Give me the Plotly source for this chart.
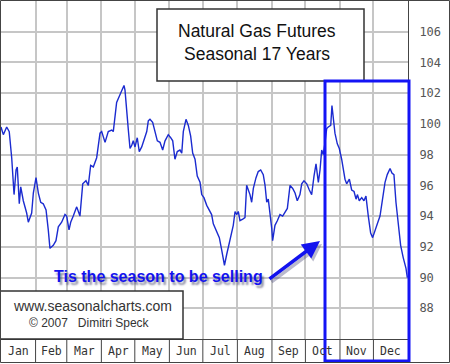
import plotly.graph_objects as go

# ---- data (day of year, seasonal index) ----
days = [0, 2.1, 5.1, 7.4, 9.6, 11.7, 13.5, 14.6, 16.4, 17.7, 20.0, 23.0, 24.5, 27.5, 29.0,
        31.4, 33.5, 35.6, 37.9, 40.4, 42.4, 43.9, 46.9, 49.3, 51.4, 54.4, 57.4, 58.9, 61.0,
        62.5, 64.8, 67.9, 70.8, 73.3, 76.2, 78.3, 80.4, 82.8, 85.8, 88.8, 90.3, 93.3, 96.2,
        99.3, 100.7, 102.2, 103.7, 106.1, 108.2, 110.3, 111.2, 112.7, 114.2, 115.7, 117.2,
        118.6, 120.2, 122.2, 124.0, 126.2, 128.2, 130.7, 132.1, 133.6, 136.0, 138.1, 140.2,
        142.6, 145.0, 147.1, 150.0, 152.2, 154.0, 156.0, 158.1, 160.5, 162.1, 163.5, 165.9,
        168.0, 170.1, 171.9, 174.0, 176.0, 178.5, 180.0, 182.0, 184.5, 186.8, 188.9, 190.4,
        193.4, 195.8, 197.9, 199.4, 200.4, 202.4, 205.4, 208.3, 209.9, 211.4, 212.8, 214.3,
        216.8, 218.8, 220.3, 221.8, 223.3, 224.8, 226.3, 228.7, 230.7, 232.9, 235.2, 236.8,
        238.3, 239.7, 241.2, 242.8, 243.6, 245.7, 247.8, 250.2, 252.6, 254.7, 256.8, 259.2,
        261.6, 263.7, 265.7, 268.1, 269.7, 271.7, 274.2, 276.5, 278.6, 280.7, 282.5, 284.6,
        286.1, 287.6, 289.0, 290.6, 292.1, 293.5, 295.7, 296.8, 298.0, 299.5, 301.6, 303.4,
        305.5, 307.0, 308.5, 310.0, 312.4, 314.5, 316.6, 318.4, 319.6, 321.3, 323.5, 325.5,
        327.3, 329.4, 331.5, 333.3, 335.4, 337.5, 339.9, 342.3, 344.4, 346.4, 348.9, 350.6,
        352.4, 354.2, 356.3, 358.4, 360.7, 363.2, 364.4]
values = [99.8, 99.3, 99.8, 99.5, 97.8, 95.4, 97.0, 97.2, 94.8, 95.9, 95.0, 94.2, 93.6, 94.2, 95.5,
          96.5, 95.5, 94.9, 94.8, 94.4, 93.1, 91.9, 92.1, 92.4, 93.3, 93.6, 94.1, 94.0, 93.1,
          93.6, 94.0, 94.6, 94.0, 96.1, 96.3, 96.0, 97.3, 97.2, 97.8, 99.4, 99.5, 98.8, 99.5,
          99.6, 99.5, 100.7, 101.4, 101.8, 102.1, 102.5, 102.2, 100.7, 99.6, 98.4, 98.6,
          98.9, 98.5, 99.1, 98.2, 98.5, 99.0, 99.5, 100.2, 100.3, 100.1, 99.4, 98.9,
          98.8, 98.3, 98.9, 99.3, 99.1, 98.9, 97.7, 98.2, 98.3, 98.1, 99.5, 100.3,
          99.9, 99.2, 98.1, 97.7, 96.6, 96.2, 95.4, 95.2, 94.7, 94.4, 94.1, 93.5,
          93.0, 92.6, 91.8, 91.3, 90.8, 91.5, 92.4, 93.4, 94.3, 94.1, 94.3, 93.7,
          93.8, 93.9, 96.0, 95.7, 95.4, 94.9, 95.8, 96.5, 96.9, 97.0, 96.7, 96.0,
          94.9, 95.1, 94.3, 93.2, 92.4, 93.4, 93.7, 94.1, 94.0, 94.3, 94.5, 96.0,
          95.8, 95.5, 95.0, 95.4, 96.1, 96.3, 96.1, 95.7, 95.4, 96.6, 97.4, 96.2,
          97.0, 98.3, 98.0, 98.8, 99.7, 99.8, 99.9, 101.2, 100.5, 99.4, 98.7, 98.4,
          97.7, 97.0, 96.4, 96.1, 96.4, 95.7, 95.6, 95.1, 95.4, 95.0, 95.2, 95.0,
          95.3, 94.0, 92.9, 92.6, 93.1, 93.5, 94.0, 95.1, 96.2, 96.7, 97.1, 96.8,
          96.7, 94.9, 93.4, 92.1, 91.3, 90.6, 90.0]

months = ["Jan", "Feb", "Mar", "Apr", "May", "Jun", "Jul", "Aug", "Sep", "Oct", "Nov", "Dec"]
month_starts = [0, 31, 59, 90, 120, 151, 181, 212, 243, 273, 304, 334, 365]
y_ticks = [86, 88, 90, 92, 94, 96, 98, 100, 102, 104, 106, 108]
y_labels = ["", "88", "90", "92", "94", "96", "98", "100", "102", "104", "106", ""]

title_lines = ["Natural Gas Futures", "Seasonal 17 Years"]
callout = "Tis the season to be selling"
site = "www.seasonalcharts.com"
credit = "\u00a9 2007\u00a0\u00a0\u00a0Dimitri Speck"

W, H = 450, 364
ML, MR, MT, MB = 1, 42, 1, 25
PW = W - ML - MR
PH = H - MT - MB


def X(px):
    return (px - ML) / PW


def Y(py):
    return (H - MB - py) / PH


fig = go.Figure()
fig.add_trace(go.Scatter(x=days, y=values, mode="lines",
                         line=dict(color="#1b2bd0", width=1.4), hoverinfo="skip"))

shapes = []
# month strip separators
for d in month_starts[1:-1]:
    shapes.append(dict(type="line", xref="x", yref="paper", x0=d, x1=d, y0=0, y1=Y(362),
                       line=dict(color="#444", width=1)))
# title box
shapes.append(dict(type="rect", xref="paper", yref="paper", x0=X(157), x1=X(364), y0=Y(81), y1=Y(9),
                   fillcolor="white", line=dict(color="#333", width=1.5)))
# website box
shapes.append(dict(type="rect", xref="paper", yref="paper", x0=X(0), x1=X(183), y0=Y(339), y1=Y(291),
                   fillcolor="white", line=dict(color="#333", width=1.5)))
# blue highlight box
shapes.append(dict(type="rect", xref="paper", yref="paper", x0=X(325), x1=X(409), y0=Y(361), y1=Y(81),
                   line=dict(color="#1414f5", width=3)))
# outer frame
shapes.append(dict(type="rect", xref="paper", yref="paper", x0=X(0.5), x1=X(449.5), y0=Y(362.5), y1=Y(0.5),
                   line=dict(color="#444", width=1)))

C = dict(xanchor="center", yanchor="middle", showarrow=False)
ann = []
ann.append(dict(x=X(257), y=Y(31), xref="paper", yref="paper", text=title_lines[0], **C,
                font=dict(family="Liberation Sans", size=17.5, color="#111")))
ann.append(dict(x=X(257), y=Y(54), xref="paper", yref="paper", text=title_lines[1], **C,
                font=dict(family="Liberation Sans", size=17.5, color="#111")))
ann.append(dict(x=X(92), y=Y(306), xref="paper", yref="paper", text=site, **C,
                font=dict(family="Liberation Sans", size=14, color="#333")))
ann.append(dict(x=X(89), y=Y(323), xref="paper", yref="paper", text=credit, **C,
                font=dict(family="Liberation Sans", size=12, color="#333")))
# arrow shadow
ann.append(dict(x=X(322), y=Y(244), xref="paper", yref="paper", text="", showarrow=True,
                ax=-52, ay=39, arrowhead=2, arrowsize=1, arrowwidth=3.5, arrowcolor="rgba(60,60,110,0.35)"))
ann.append(dict(x=X(158), y=Y(276.5), xref="paper", yref="paper", text="<b>" + callout + "</b>", **C,
                font=dict(family="Liberation Sans", size=16, color="#1212ee",
                          shadow="2px 3px 2px rgba(50,50,90,0.55)")))
ann.append(dict(x=X(320), y=Y(241), xref="paper", yref="paper", text="", showarrow=True,
                ax=-52, ay=39, arrowhead=2, arrowsize=1, arrowwidth=3.5, arrowcolor="#1212ee"))
# month labels
for i, m in enumerate(months):
    c = (month_starts[i] + month_starts[i + 1]) / 2
    ann.append(dict(x=c, y=Y(351), xref="x", yref="paper", text=m, **C,
                    font=dict(family="DejaVu Sans Mono", size=11.5, color="#333")))

fig.update_layout(
    width=W, height=H, margin=dict(l=ML, r=MR, t=MT, b=MB, autoexpand=False),
    paper_bgcolor="white", plot_bgcolor="white", showlegend=False,
    shapes=shapes, annotations=ann,
    xaxis=dict(range=[0, 365], tickvals=month_starts, showticklabels=False, ticks="",
               showgrid=True, gridcolor="#c6c6c6", gridwidth=1.5, zeroline=False, automargin=False,
               showline=True, linecolor="#444", linewidth=1),
    yaxis=dict(range=[86, 108], side="right", tickvals=y_ticks, ticktext=y_labels, ticks="",
               ticklabelstandoff=8, showgrid=True, gridcolor="#c6c6c6", gridwidth=1.5, automargin=False,
               zeroline=False, showline=True, linecolor="#444", linewidth=1,
               tickfont=dict(family="DejaVu Sans Mono", size=12, color="#555")),
)

fig.write_html("out.html", config={"displayModeBar": False},
               post_script="document.body.style.margin='0px';document.body.style.overflow='hidden';")
